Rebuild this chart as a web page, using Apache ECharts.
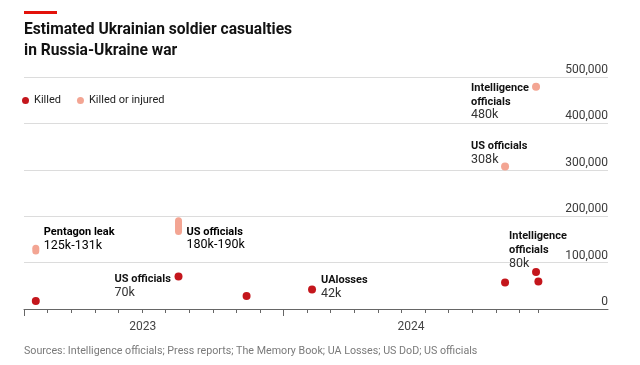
<!DOCTYPE html>
<html>
<head>
<meta charset="utf-8">
<script src="https://cdn.jsdelivr.net/npm/echarts@6/dist/echarts.min.js"></script>
<style>
html,body{margin:0;padding:0;background:#fff;}
#chart{width:640px;height:365px;}
</style>
</head>
<body>
<div id="chart"></div>
<script>
// ---------- DATA ----------
var titleText = "Estimated Ukrainian soldier casualties\nin Russia-Ukraine war";
var sourceText = "Sources: Intelligence officials; Press reports; The Memory Book; UA Losses; US DoD; US officials";
var seriesNames = ["Killed", "Killed or injured"];

var killedDates  = ["2023-02-15", "2023-08-18", "2023-11-14", "2024-02-07", "2024-10-13", "2024-11-22", "2024-11-25"];
var killedValues = [17000, 70000, 28000, 42000, 57000, 80000, 59000];
var killedNotes  = [null, ["US officials", "70k"], null, ["UAlosses", "42k"], null, ["Intelligence", "officials", "80k"], null];

var injuredDates  = ["2024-10-13", "2024-11-22"];
var injuredValues = [307000, 479000];
var injuredNotes  = [["US officials", "308k"], ["Intelligence", "officials", "480k"]];

var rangeDates = ["2023-02-15", "2023-08-18"];
var rangeLow   = [125000, 167000];
var rangeHigh  = [131000, 190000];
var rangeNotes = [["Pentagon leak", "125k-131k"], ["US officials", "180k-190k"]];

var yearLabels = ["2023", "2024"];
var axisStart = "2023-02-01";
var lastTickDate = "2024-11-25";

// ---------- LAYOUT / STYLE ----------
var killedOffsets  = [null, [-64, -4], null, [9, -16], null, [-27, -42], null];
var injuredOffsets = [[-34, -27], [-65, -5]];
var rangeOffsets   = [[8, -24], [8, -1]];
var RED = "#c4161c", PINK = "#f3a593";
var FONT = "Roboto";

// months since axisStart (fractional)
function mpos(s) {
  var p = s.split("-").map(Number);
  var dim = new Date(p[0], p[1], 0).getDate();
  var b = axisStart.split("-").map(Number);
  return (p[0] - b[0]) * 12 + (p[1] - b[1]) + (p[2] - 1) / dim;
}
var jan2024 = mpos(yearLabels[1] + "-01-01");
var lastTick = mpos(lastTickDate);
var yearPos = [mpos(yearLabels[0] + "-07-02"), (jan2024 + lastTick) / 2];
var monthTicks = [];
for (var k = 1; k <= Math.floor(lastTick); k++) if (k !== jan2024) monthTicks.push(k);
monthTicks.push(lastTick);
var longTicks = [0, jan2024];

var rich = {
  t: {fontFamily: FONT, fontWeight: "bold", fontSize: 11, lineHeight: 13.4, color: "#121212"},
  v: {fontFamily: FONT, fontSize: 12.5, lineHeight: 13.4, color: "#333"}
};
function noteText(n) {
  return n.map(function (s, i) { return (i === n.length - 1 ? "{v|" : "{t|") + s + "}"; }).join("\n");
}
function pointData(dates, vals, notes, offs) {
  return dates.map(function (d, i) {
    var item = {value: [mpos(d), vals[i]]};
    if (notes[i]) {
      item.label = {
        show: true, position: "inside", align: "left", verticalAlign: "top",
        offset: offs[i], formatter: noteText(notes[i]), rich: rich
      };
    }
    return item;
  });
}

var chart = echarts.init(document.getElementById("chart"), null, {renderer: "canvas"});
var option = {
  animation: false,
  textStyle: {fontFamily: FONT},
  grid: {left: 24, right: 32, top: 77, bottom: 56, containLabel: false},
  title: {
    text: titleText, left: 24, top: 20, padding: 0,
    textStyle: {fontFamily: FONT, fontSize: 15.6, fontWeight: "bold", lineHeight: 20.7, color: "#121212"}
  },
  legend: {
    left: 22, top: 95, itemWidth: 7, itemHeight: 7, itemGap: 16, padding: 0,
    icon: "circle", data: seriesNames,
    textStyle: {fontFamily: FONT, fontSize: 11, color: "#222"}
  },
  graphic: [
    {type: "rect", left: 24, top: 11, shape: {width: 33, height: 3}, style: {fill: "#e3120b"}},
    {type: "text", left: 24, top: 346, style: {text: sourceText, fontFamily: FONT, fontSize: 10.7, fill: "#7a7a7a"}}
  ],
  xAxis: [{
    type: "value", min: 0, max: 24.75,
    axisLine: {show: true, lineStyle: {color: "#666", width: 1}},
    axisTick: {show: true, length: 4, customValues: monthTicks, lineStyle: {color: "#666"}},
    axisLabel: {show: true, customValues: yearPos, margin: 12, fontFamily: FONT, fontSize: 12, color: "#444",
      formatter: function (v) { return Math.abs(v - yearPos[0]) < 0.01 ? yearLabels[0] : yearLabels[1]; }},
    splitLine: {show: false}
  }, {
    type: "value", min: 0, max: 24.75, position: "bottom",
    axisLine: {show: false},
    axisTick: {show: true, length: 7, customValues: longTicks, lineStyle: {color: "#666"}},
    axisLabel: {show: false},
    splitLine: {show: false}
  }],
  yAxis: {
    type: "value", position: "right", min: 0, max: 500000, interval: 100000,
    axisLine: {show: false}, axisTick: {show: false},
    splitLine: {lineStyle: {color: "#dcdcdc", width: 1}},
    axisLabel: {inside: true, margin: 0, verticalAlign: "bottom", padding: [0, 0, 1, 0],
      fontFamily: FONT, fontSize: 12, color: "#3a3a3a",
      formatter: function (v) { return v.toLocaleString("en-US"); }}
  },
  series: [
    {
      name: seriesNames[0], type: "scatter", symbolSize: 8, itemStyle: {color: RED, opacity: 1},
      data: pointData(killedDates, killedValues, killedNotes, killedOffsets), z: 3
    },
    {
      name: seriesNames[1], type: "scatter", symbolSize: 8, itemStyle: {color: PINK, opacity: 1},
      data: pointData(injuredDates, injuredValues, injuredNotes, injuredOffsets), z: 3
    },
    {
      name: seriesNames[1], type: "custom", z: 3,
      encode: {x: 0, y: [1, 2]},
      data: rangeDates.map(function (d, i) { return [mpos(d), rangeLow[i], rangeHigh[i], i]; }),
      renderItem: function (params, api) {
        var x = api.value(0), i = api.value(3);
        var p1 = api.coord([x, api.value(1)]), p2 = api.coord([x, api.value(2)]);
        var mid = [(p1[0] + p2[0]) / 2, (p1[1] + p2[1]) / 2];
        return {
          type: "group",
          children: [
            {type: "line", shape: {x1: p1[0], y1: p1[1], x2: p2[0], y2: p2[1]},
              style: {stroke: PINK, lineWidth: 7, lineCap: "round"}},
            {type: "text", x: mid[0] + rangeOffsets[i][0], y: mid[1] + rangeOffsets[i][1],
              style: {text: noteText(rangeNotes[i]), rich: rich, align: "left", verticalAlign: "top"}}
          ]
        };
      }
    }
  ]
};
chart.setOption(option);
</script>
</body>
</html>
